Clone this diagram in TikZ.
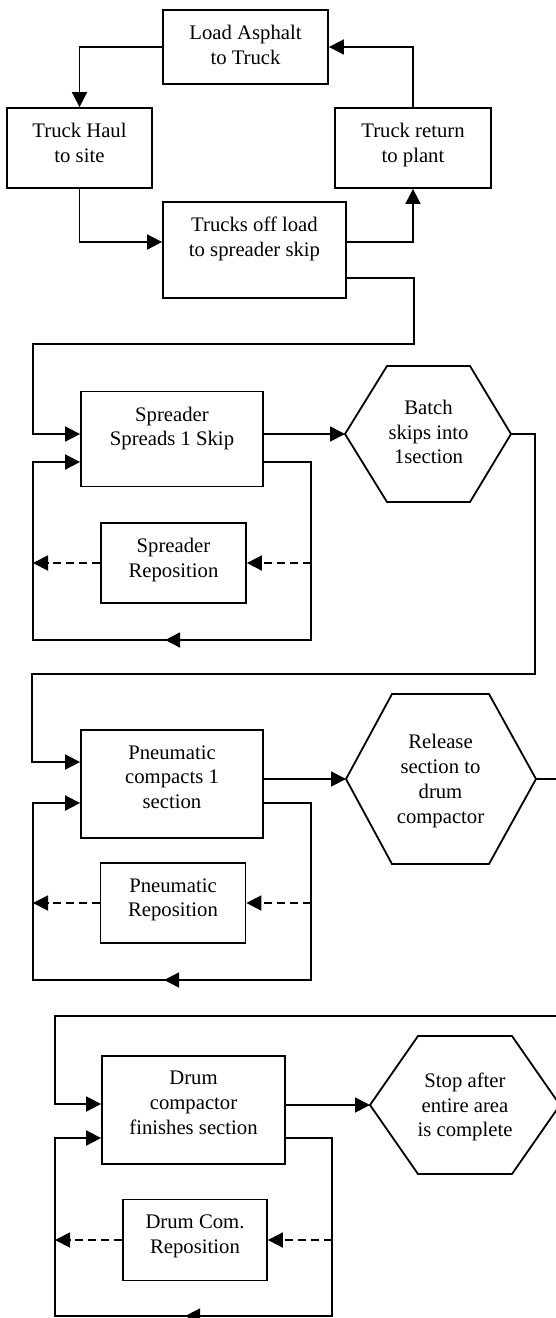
\documentclass[tikz,border=0pt]{standalone}
\usepackage{fontspec}
\setmainfont{Liberation Serif}
\usetikzlibrary{arrows.meta,decorations.markings}

\tikzset{
  line/.style={line width=1.8pt},
  arr/.style={line, -{Triangle[length=15pt,width=15pt]}},
  dasharr/.style={arr, dash pattern=on 8pt off 5pt},
  box/.style={draw, line width=1.8pt, rectangle, inner sep=0pt},
  txt/.style={font=\fontsize{20.7}{24.8}\selectfont, align=center, inner sep=0pt},
  loopmark/.style={postaction={decorate, -},
    decoration={markings, mark=at position 371pt with {\arrow{Triangle[length=15pt,width=15pt]}}}}
}

\begin{document}
\begin{tikzpicture}[x=1pt, y=-1pt]
    \useasboundingbox (0,0) rectangle (556,1318);
    \clip (0,0) rectangle (556,1318);

    % Truck cycle
    \node[box, minimum width=165pt, minimum height=74pt] (load) at (245.5,47) {};
    \node[txt, anchor=north] (loadT) at ([yshift=-16pt]load.north) {Load Asphalt\\to Truck};
    \node[box, minimum width=145pt, minimum height=80pt] (haul) at (79.5,148) {};
    \node[txt, anchor=north] (haulT) at ([yshift=-16pt]haul.north) {Truck Haul\\to site};
    \node[box, minimum width=156pt, minimum height=80pt] (ret) at (413,148) {};
    \node[txt, anchor=north] (retT) at ([yshift=-16pt]ret.north) {Truck return\\to plant};
    \node[box, minimum width=183pt, minimum height=96pt] (off) at (254.5,250) {};
    \node[txt, anchor=north] (offT) at ([yshift=-16pt]off.north) {Trucks off load\\to spreader skip};

    \draw[arr] (load.west) -| (haul.north);
    \draw[arr] (haul.south) |- ([yshift=8pt]off.west);
    \draw[arr] ([yshift=8pt]off.east) -| (ret.south);
    \draw[arr] (ret.north) |- (load.east);

    % Spreader
    \node[box, minimum width=182pt, minimum height=95pt] (spread) at (172,439) {};
    \node[txt, anchor=north] (spreadT) at ([yshift=-16pt]spread.north) {Spreader\\Spreads 1 Skip};
    \node[box, minimum width=145pt, minimum height=80pt] (sprepos) at (173.5,563) {};
    \node[txt, anchor=north] (spreposT) at ([yshift=-16pt]sprepos.north) {Spreader\\Reposition};
    \draw[line] (345,434) -- (387,366) -- (470,366) -- (511,434) -- (470,502) -- (387,502) -- cycle;
    \node[txt] (batch) at (428.5,432) {Batch\\skips into\\1section};
    \coordinate (batchW) at (345,434);
    \coordinate (batchE) at (511,434);

    \draw[arr] ([yshift=-28pt]off.east) -- (414,278) -- (414,344) -- (33,344) |- ([yshift=5pt]spread.west);
    \draw[arr] ([yshift=5pt]spread.east) -- (batchW);
    \draw[arr, loopmark] ([yshift=-23pt]spread.east) -- (311,462) -- (311,640) -- (33,640) -- (33,462) -- ([yshift=-23pt]spread.west);
    \draw[dasharr] (311,563) -- (sprepos.east);
    \draw[dasharr] (sprepos.west) -- (33,563);

    % Pneumatic
    \node[box, minimum width=182pt, minimum height=108pt] (pneu) at (172,784) {};
    \node[txt, anchor=north] (pneuT) at ([yshift=-16pt]pneu.north) {Pneumatic\\compacts 1\\section};
    \node[box, minimum width=145pt, minimum height=80pt] (pneurepos) at (173,903) {};
    \node[txt, anchor=north] (pneureposT) at ([yshift=-16pt]pneurepos.north) {Pneumatic\\Reposition};
    \draw[line] (346,779) -- (392,694) -- (489,694) -- (536,779) -- (489,864) -- (392,864) -- cycle;
    \node[txt] (release) at (440.5,781) {Release\\section to\\drum\\compactor};
    \coordinate (releaseW) at (346,779);
    \coordinate (releaseE) at (536,779);

    \draw[arr] (batchE) -- (535,434) -- (535,674) -- (32,674) |- ([yshift=22pt]pneu.west);
    \draw[arr] ([yshift=5pt]pneu.east) -- (releaseW);
    \draw[arr, loopmark] ([yshift=-19pt]pneu.east) -- (311,803) -- (311,980) -- (33,980) -- (33,803) -- ([yshift=-19pt]pneu.west);
    \draw[dasharr] (311,903) -- (pneurepos.east);
    \draw[dasharr] (pneurepos.west) -- (33,903);

    % Drum compactor
    \node[box, minimum width=183pt, minimum height=108pt] (drum) at (193.5,1110) {};
    \node[txt, anchor=north] (drumT) at ([yshift=-16pt]drum.north) {Drum\\compactor\\finishes section};
    \node[box, minimum width=144pt, minimum height=81pt] (drumrepos) at (195,1240) {};
    \node[txt, anchor=north] (drumreposT) at ([yshift=-16pt]drumrepos.north) {Drum Com.\\Reposition};
    \draw[line] (370,1105) -- (418,1036) -- (512,1036) -- (560,1105) -- (512,1174) -- (418,1174) -- cycle;
    \node[txt] (stop) at (465,1107) {Stop after\\entire area\\is complete};
    \coordinate (stopW) at (370,1105);

    \draw[arr] (releaseE) -- (575,779) -- (575,1016) -- (55,1016) |- ([yshift=6pt]drum.west);
    \draw[arr] ([yshift=5pt]drum.east) -- (stopW);
    \draw[arr, loopmark] ([yshift=-28pt]drum.east) -- (332,1138) -- (332,1316) -- (55,1316) -- (55,1138) -- ([yshift=-28pt]drum.west);
    \draw[dasharr] (332,1240) -- (drumrepos.east);
    \draw[dasharr] (drumrepos.west) -- (55,1240);
\end{tikzpicture}
\end{document}
